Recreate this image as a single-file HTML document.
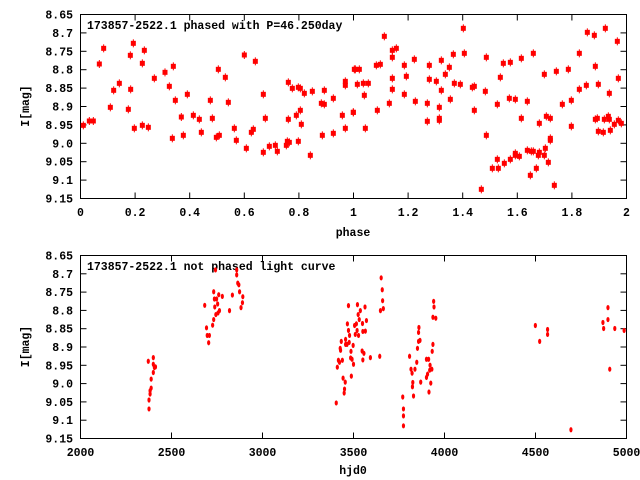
<!DOCTYPE html>
<html><head><meta charset="utf-8"><style>
html,body{margin:0;padding:0;background:#fff;}
svg{display:block;}
text{font-family:"Liberation Mono",monospace;font-weight:bold;font-size:11.5px;fill:#000;}
</style></head><body>
<svg id="s" width="640" height="480" xmlns="http://www.w3.org/2000/svg">
<rect width="640" height="480" fill="#fff"/>
<g id="g"></g>
</svg>
<script>
var g=document.getElementById('g'),h='';
function line(x1,y1,x2,y2){h+='<line x1="'+x1+'" y1="'+y1+'" x2="'+x2+'" y2="'+y2+'" stroke="#000" stroke-width="1"/>';}
function txt(x,y,t,a,extra){h+='<text x="'+x+'" y="'+y+'" text-anchor="'+(a||'start')+'" '+(extra||'')+'>'+t+'</text>';}
function panel(top,bot,xlabs,xlab,xlabY){
  var L=80.5,R=626.5;
  h+='<rect x="'+L+'" y="'+(top+0.5)+'" width="'+(R-L)+'" height="'+(bot-top)+'" fill="none" stroke="#000"/>';
  for(var i=0;i<=10;i++){var y=top+0.5+(bot-top)*i/10;line(L,y,L+6,y);line(R,y,R-6,y);
    var v=(8.65+0.05*i);var s=v.toFixed(2).replace(/0$/,'');if(s.slice(-1)=='.')s=s.slice(0,-1);
    txt(73,y+4,s,'end');}
  var n=xlabs.length;
  for(var i=0;i<n;i++){var x=L+(R-L)*i/(n-1);line(x,bot+0.5,x,bot-5.5);line(x,top+0.5,x,top+6.5);txt(x,bot+18,xlabs[i],'middle');}
  txt(353,xlabY,xlab,'middle');
  txt(0,0,'I[mag]','middle','transform="translate(29,'+((top+bot)/2)+') rotate(-90)"');
}
panel(14,198,['0','0.2','0.4','0.6','0.8','1','1.2','1.4','1.6','1.8','2'],'phase',236);
panel(255,438,['2000','2500','3000','3500','4000','4500','5000'],'hjd0',474);
txt(87,29,'173857-2522.1 phased with P=46.250day');
txt(87,270,'173857-2522.1 not phased light curve');
var z1=[[25,346],[43,333],[55,333],[73,162],[86,115],[106,292],[116,241],[133,220],[160,298],[166,136],[167,238],[175,100],[178,355],[202,160],[202,346],[208,121],[220,352],[238,205],[270,187],[283,229],[292,385],[295,169],[301,271],[319,321],[325,376],[337,253],[355,316],[373,328],[379,367],[406,271],[412,325],[424,382],[430,178],[433,376],[451,202],[460,277],[478,355],[484,391],[508,135],[514,415],[529,367],[535,358],[541,154],[565,253],[565,427],[571,325],[583,409],[601,406],[607,424],[634,406],[637,394],[640,217],[640,328],[643,397],[652,235],[664,316],[670,232],[670,394],[676,235],[676,301],[679,343],[688,250],[706,436],[712,244],[739,280],[742,376],[748,241],[748,283],[775,265],[775,370],[802,316],[811,214],[811,226],[811,355],[835,307],[838,178]];
var z2=[[10,307],[16,178],[28,178],[22,223],[40,220],[55,220],[43,256],[46,355],[79,166],[82,301],[91,163],[103,79],[118,280],[127,121],[127,142],[127,205],[127,238],[139,115],[163,166],[163,253],[169,199],[193,148],[196,274],[232,280],[232,334],[238,166],[238,208],[259,214],[268,292],[268,325],[268,331],[274,151],[274,241],[286,193],[298,172],[301,268],[310,133],[313,220],[331,223],[340,55],[343,130],[367,232],[373,229],[373,301],[394,538],[406,244],[409,142],[409,376],[427,475],[442,283],[442,448],[445,475],[451,202],[460,160],[463,460],[478,265],[481,157],[481,448],[496,268],[496,430],[496,436],[508,439],[514,145],[514,325],[532,274],[532,421],[541,496],[544,424],[550,130],[550,424],[559,475],[565,436],[568,340],[568,427],[583,193],[583,436],[586,415],[589,319],[595,457],[601,325],[601,391],[601,385],[613,526],[619,184],[637,283],[655,178],[664,271],[664,349],[688,130],[688,238],[709,226],[712,67],[733,76],[736,169],[736,328],[742,325],[745,223],[745,364],[760,367],[763,328],[766,55],[778,250],[775,319],[778,328],[781,361],[793,343],[802,94],[805,205],[805,331],[814,340]];
function mk(x,y){h+='<rect x="'+(x-2.5)+'" y="'+(y-2.5)+'" width="5" height="5" fill="#f00"/><line x1="'+x+'" y1="'+(y-4)+'" x2="'+x+'" y2="'+(y+4)+'" stroke="#f00" stroke-width="1"/>';}
z1.forEach(function(p){mk(75+p[0]/3,10+p[1]/3);});
z2.forEach(function(p){mk(350+p[0]/3,10+p[1]/3);});
var z3=[[203,331],[205,448],[205,475],[208,430],[208,420],[211,385],[211,412],[217,320],[217,340],[217,365],[220,350],[223,348],[360,162],[365,230],[367,253],[371,275],[373,253],[382,222],[385,205],[385,121],[387,143],[388,167],[390,55],[391,190],[393,143],[396,158],[397,185],[399,130],[401,178],[409,135],[429,178],[437,131],[449,55],[449,70],[452,95],[455,100],[457,121],[461,169],[465,154],[466,136],[726,457],[729,349],[732,328],[735,334],[737,292],[738,298],[740,271],[743,328],[745,382],[748,427],[749,415],[751,394],[752,280],[752,265],[756,280],[757,218],[760,163],[760,238],[762,274],[763,253],[766,321],[767,301],[768,376],[770,325],[773,283],[774,340],[777,223],[779,250],[782,218],[784,238],[785,160],[787,190],[788,253],[790,205],[793,178],[798,300],[799,217],[800,241],[800,327],[803,307],[806,167],[807,240],[810,208],[821,320],[847,316],[849,178],[851,79],[854,115],[855,148],[857,172],[911,439],[913,475],[913,496],[913,526],[930,316],[934,355],[937,367],[938,408],[939,395],[941,436],[945,355],[950,334],[952,292],[955,271],[955,244],[956,229],[959,268],[961,394],[977,325],[977,380],[980,370],[983,325],[984,424],[986,358],[987,343],[989,397],[992,355],[993,301],[995,280],[995,198],[997,150],[998,167],[1003,201],[1280,223],[1292,271],[1314,235],[1314,250],[1379,538],[1468,214],[1470,232],[1482,169],[1482,205],[1487,355],[1501,232],[1527,238]];
z3.forEach(function(p){var x=80+(p[0]-13)*0.3594,y=255+(p[1]-10)*0.331;h+='<ellipse cx="'+x+'" cy="'+y+'" rx="1.6" ry="2.6" fill="#f00"/>';});
g.innerHTML=h;
</script>
</body></html>
